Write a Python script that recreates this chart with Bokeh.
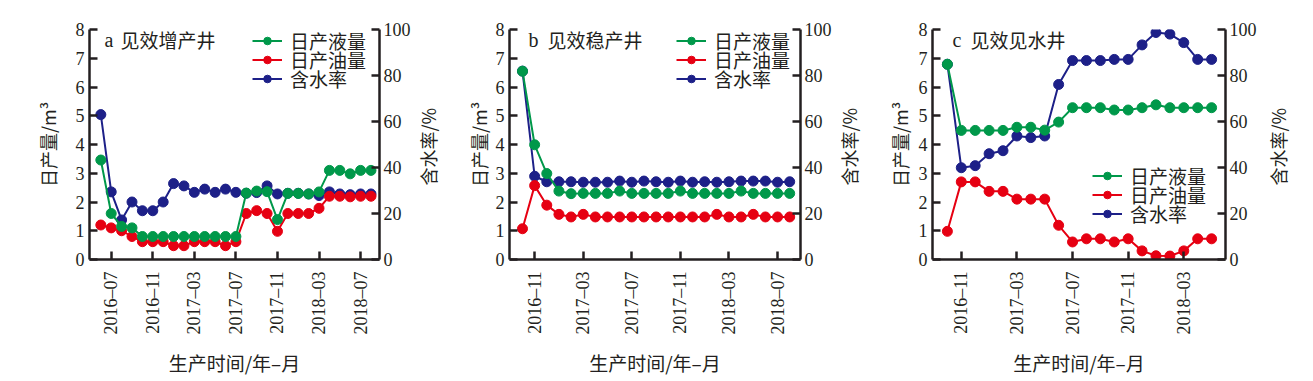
import math
from bokeh.plotting import figure
from bokeh.models import Range1d, LinearAxis, FixedTicker, Legend, LegendItem, Label
from bokeh.layouts import row
from bokeh.embed import file_html
from bokeh.resources import INLINE
from bokeh.core.properties import value

# ---------------- data ----------------
months_a = ["2016-06", "2016-07", "2016-08", "2016-09", "2016-10", "2016-11", "2016-12",
            "2017-01", "2017-02", "2017-03", "2017-04", "2017-05", "2017-06", "2017-07",
            "2017-08", "2017-09", "2017-10", "2017-11", "2017-12",
            "2018-01", "2018-02", "2018-03", "2018-04", "2018-05", "2018-06", "2018-07", "2018-08"]
liquid_a = [3.46, 1.6, 1.15, 1.1, 0.8, 0.8, 0.8, 0.8, 0.8, 0.8, 0.8, 0.8, 0.8, 0.8,
            2.31, 2.38, 2.36, 1.39, 2.3, 2.3, 2.28, 2.35, 3.1, 3.1, 2.98, 3.1, 3.1]
oil_a = [1.2, 1.1, 1.0, 0.8, 0.62, 0.62, 0.62, 0.48, 0.48, 0.62, 0.62, 0.62, 0.48, 0.62,
         1.6, 1.7, 1.6, 0.98, 1.6, 1.6, 1.6, 1.78, 2.2, 2.2, 2.18, 2.2, 2.2]
water_a = [63, 29.4, 17.2, 25, 21.2, 21.2, 25, 33, 32, 29.2, 30.6, 29.2, 30.6, 29.2,
           28.8, 29.1, 32, 28.5, 28.8, 28.8, 28.5, 27.8, 29.4, 28.5, 28.2, 28.5, 28.5]
ticks_a = ["2016-07", "2016-11", "2017-03", "2017-07", "2017-11", "2018-03", "2018-07"]

months_b = ["2016-10", "2016-11", "2016-12",
            "2017-01", "2017-02", "2017-03", "2017-04", "2017-05", "2017-06", "2017-07",
            "2017-08", "2017-09", "2017-10", "2017-11", "2017-12",
            "2018-01", "2018-02", "2018-03", "2018-04", "2018-05", "2018-06", "2018-07", "2018-08"]
liquid_b = [6.55, 3.99, 2.99, 2.38, 2.29, 2.3, 2.3, 2.3, 2.38, 2.3, 2.3, 2.3, 2.3, 2.38,
            2.3, 2.3, 2.3, 2.3, 2.38, 2.3, 2.3, 2.3, 2.3]
oil_b = [1.07, 2.57, 1.89, 1.57, 1.48, 1.57, 1.48, 1.48, 1.48, 1.48, 1.48, 1.48, 1.48, 1.48,
         1.48, 1.48, 1.57, 1.48, 1.48, 1.57, 1.48, 1.48, 1.48]
water_b = [81.9, 36.2, 33.8, 33.8, 33.8, 33.6, 33.6, 33.6, 34.1, 33.6, 34.1, 33.8, 33.6, 34.1,
           33.6, 33.8, 33.6, 33.8, 34.1, 34.1, 34.1, 33.6, 33.8]
ticks_b = ["2016-11", "2017-03", "2017-07", "2017-11", "2018-03", "2018-07"]

months_c = ["2016-10", "2016-11", "2016-12",
            "2017-01", "2017-02", "2017-03", "2017-04", "2017-05", "2017-06", "2017-07",
            "2017-08", "2017-09", "2017-10", "2017-11", "2017-12",
            "2018-01", "2018-02", "2018-03", "2018-04", "2018-05"]
liquid_c = [6.79, 4.49, 4.49, 4.49, 4.49, 4.6, 4.6, 4.5, 4.78, 5.28, 5.28, 5.28, 5.2, 5.2,
            5.28, 5.38, 5.28, 5.28, 5.28, 5.28]
oil_c = [0.98, 2.7, 2.7, 2.37, 2.37, 2.1, 2.1, 2.1, 1.19, 0.61, 0.72, 0.72, 0.61, 0.72,
         0.3, 0.13, 0.12, 0.3, 0.72, 0.72]
water_c = [84.9, 39.9, 40.8, 46, 47.3, 53.7, 53, 53.7, 76.1, 86.5, 86.5, 86.5, 87, 87,
           93.3, 98.7, 98, 94.3, 87, 87]
ticks_c = ["2016-11", "2017-03", "2017-07", "2017-11", "2018-03"]

series_names = ["日产液量", "日产油量", "含水率"]
left_label = "日产量/m³"
right_label = "含水率/%"
x_label = "生产时间/年–月"

# ---------------- style ----------------
GREEN = "#00984a"
RED = "#e60012"
BLUE = "#1d2088"
INK = "#231f20"
SERIF = "Liberation Serif"
CJK = "Noto Sans CJK SC"
H, TOP, BOTTOM = 378, 29, 119
FRAME_H = H - TOP - BOTTOM
ROW_H = 28
MK = 10


def midx(s):
    y, m = s.split("-")
    return (int(y) - 2016) * 12 + int(m)


def style_axis(ax):
    ax.axis_line_width = 2.5
    ax.axis_line_color = INK
    ax.major_tick_line_width = 2.5
    ax.major_tick_line_color = INK
    ax.major_tick_in = 8
    ax.major_tick_out = 0
    ax.minor_tick_line_color = None
    ax.major_label_text_font = SERIF
    ax.major_label_text_font_size = "18px"
    ax.major_label_text_color = INK
    ax.major_label_standoff = 5
    ax.axis_label_text_font = CJK
    ax.axis_label_text_font_style = "normal"
    ax.axis_label_text_color = INK


def make_panel(months, liquid, oil, water, ticks, x_range, width, bl, br,
               letter, title, letter_x, title_x, leg_x, leg_rows, std_l):
    p = figure(width=width, height=H, x_range=Range1d(*x_range), y_range=Range1d(0, 8),
               output_backend="svg", toolbar_location=None,
               min_border_left=bl, min_border_right=br,
               min_border_top=TOP, min_border_bottom=BOTTOM)
    p.extra_y_ranges = {"wc": Range1d(0, 100)}
    p.outline_line_color = None
    p.grid.visible = False
    p.background_fill_color = "white"
    p.border_fill_color = "white"

    xs = [midx(m) for m in months]
    tick_vals = [midx(t) for t in ticks]

    style_axis(p.xaxis[0])
    p.xaxis.ticker = FixedTicker(ticks=tick_vals)
    p.xaxis.major_label_overrides = {v: t.replace("-", "–") for v, t in zip(tick_vals, ticks)}
    p.xaxis.major_label_orientation = math.pi / 2
    p.xaxis.major_label_standoff = 12
    p.xaxis.axis_label = x_label
    p.xaxis.axis_label_text_font_size = "19px"
    p.xaxis.axis_label_standoff = 11

    style_axis(p.yaxis[0])
    p.yaxis.ticker = FixedTicker(ticks=list(range(0, 9)))
    p.yaxis.axis_label = left_label
    p.yaxis.axis_label_text_font_size = "18px"
    p.yaxis.axis_label_standoff = std_l

    rax = LinearAxis(y_range_name="wc", ticker=FixedTicker(ticks=[0, 20, 40, 60, 80, 100]))
    style_axis(rax)
    rax.major_label_standoff = 4
    p.add_layout(rax, "right")

    bl_line = p.line(xs, water, y_range_name="wc", color=BLUE, line_width=2)
    bl_dot = p.scatter(xs, water, y_range_name="wc", size=MK, color=BLUE)
    rd_line = p.line(xs, oil, color=RED, line_width=2)
    rd_dot = p.scatter(xs, oil, size=MK, color=RED)
    gr_line = p.line(xs, liquid, color=GREEN, line_width=2)
    gr_dot = p.scatter(xs, liquid, size=MK, color=GREEN)

    rends = [[gr_line, gr_dot], [rd_line, rd_dot], [bl_line, bl_dot]]
    for name, rr, yc in zip(series_names, rends, leg_rows):
        lg = Legend(items=[LegendItem(label=name, renderers=rr)],
                    location=(leg_x, FRAME_H - (yc - TOP) - ROW_H / 2),
                    glyph_width=30, glyph_height=19, label_height=19,
                    label_standoff=8, spacing=0, padding=0, margin=0,
                    border_line_color=None, background_fill_alpha=0,
                    label_text_font=CJK, label_text_font_size="19px",
                    label_text_color=INK)
        p.add_layout(lg)

    p.add_layout(Label(x=letter_x, y=FRAME_H - 10, x_units="screen", y_units="screen",
                       text=letter, text_font=SERIF, text_font_size="20px",
                       text_baseline="middle", text_color=INK))
    p.add_layout(Label(x=title_x, y=FRAME_H - 10, x_units="screen", y_units="screen",
                       text=title, text_font=CJK, text_font_size="19px",
                       text_baseline="middle", text_color=INK))
    return p


def make_right_label(width):
    # narrow strip carrying the right-hand axis title (reads bottom-to-top)
    q = figure(width=width, height=H, x_range=Range1d(0, 1), y_range=Range1d(0, 100),
               output_backend="svg", toolbar_location=None,
               x_axis_location=None, y_axis_location=None,
               min_border_left=0, min_border_right=0,
               min_border_top=TOP, min_border_bottom=BOTTOM)
    q.outline_line_color = None
    q.grid.visible = False
    q.text(x=[0.5], y=[49], text=[right_label], angle=math.pi / 2,
           text_font=value(CJK), text_font_size="18px", text_align="center",
           text_baseline="middle", text_color=INK)
    return q


pa = make_panel(months_a, liquid_a, oil_a, water_a, ticks_a, (4.91, 32.82), 413, 89, 34,
                "a", "见效增产井", 15, 31, 163, [40, 59, 78], 12)
la = make_right_label(28)
pb = make_panel(months_b, liquid_b, oil_b, water_b, ticks_b, (8.93, 32.89), 393, 68, 32,
                "b", "见效稳产井", 19, 38, 167, [40, 59, 78], 1)
lb = make_right_label(28)
pc = make_panel(months_c, liquid_c, oil_c, water_c, ticks_c, (8.93, 30.0), 397, 70, 32,
                "c", "见效见水井", 20, 38, 160, [175, 194, 213], 3)
lc = make_right_label(36)

layout = row(pa, la, pb, lb, pc, lc, spacing=0)
open("out.html", "w").write(file_html(layout, INLINE))
